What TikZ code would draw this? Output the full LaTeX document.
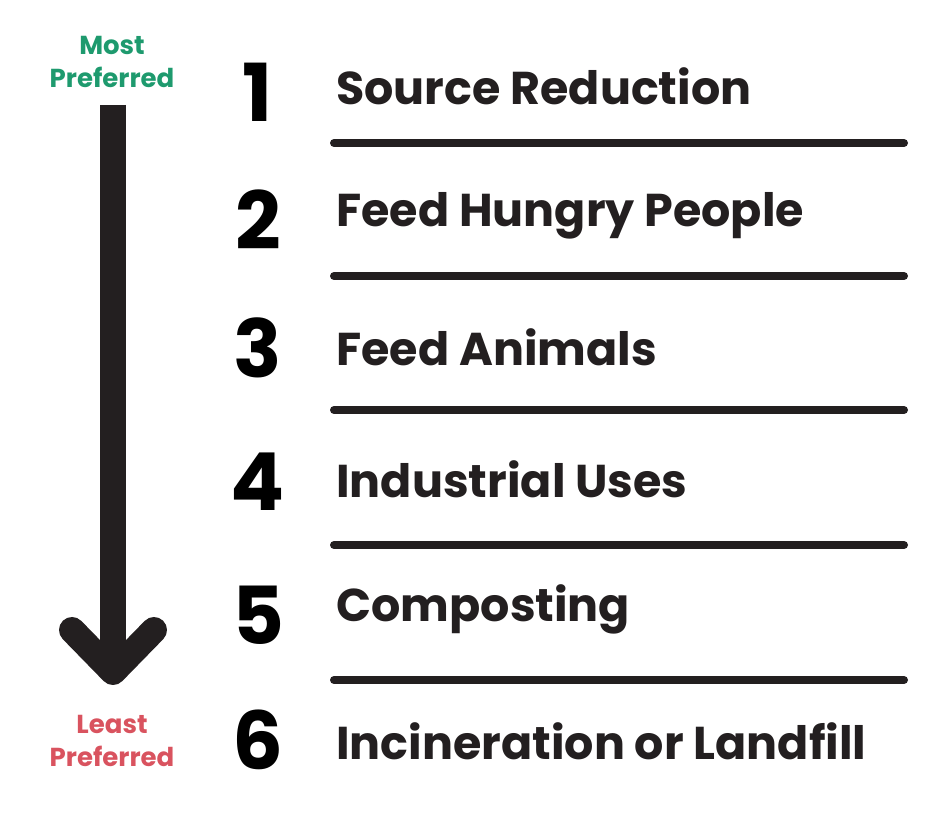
\documentclass[tikz,border=0pt]{standalone}
\usepackage{fontspec}
\setmainfont{Poppins}
\usepackage{tikz}
\usetikzlibrary{positioning}
\definecolor{inkdark}{HTML}{231F20}
\definecolor{mostgreen}{HTML}{1E9A6E}
\definecolor{leastred}{HTML}{D9535F}

\begin{document}
\begin{tikzpicture}[x=0.5pt,y=-0.5pt,
  num/.style={font=\fontsize{40}{40}\selectfont\bfseries,text=black,anchor=center},
  lbl/.style={font=\fontsize{23}{25}\selectfont\bfseries,text=inkdark,anchor=west,inner sep=0pt},
  rule/.style={draw=inkdark,line width=4pt,line cap=round},
  pref/.style={font=\fontsize{13}{16.5}\selectfont\bfseries,align=center,inner sep=0pt},
  bigarrow/.style={draw=inkdark,line width=13pt,line cap=round,line join=round}]
\useasboundingbox (0,0) rectangle (934,828);
% preference labels
\node[pref,text=mostgreen] (most) at (112,62) {Most\\Preferred};
\node[pref,text=leastred] (least) at (112,741) {Least\\Preferred};
% arrow
\coordinate (top) at (113,105);
\coordinate (tip) at (113,672);
\draw[bigarrow,line cap=butt] (top) -- (113,665);
\draw[bigarrow] (72,630) -- (tip) -- (154,630);
% levels
\node[num] (n1) at (258,92) {1};
\node[lbl] (l1) at (336,86) {Source Reduction};
\node[num] (n2) at (258,220) {2};
\node[lbl] (l2) at (336,216) {Feed Hungry People};
\node[num] (n3) at (258,348) {3};
\node[lbl] (l3) at (336,347) {Feed Animals};
\node[num] (n4) at (258,482) {4};
\node[lbl] (l4) at (336,479) {Industrial Uses};
\node[num] (n5) at (258,615) {5};
\node[lbl] (l5) at (336,609) {Composting};
\node[num] (n6) at (258,740) {6};
\node[lbl] (l6) at (336,741) {Incineration or Landfill};
% separators
\foreach \y in {143,276,410,545,680}
  \draw[rule] (334,\y) -- (904,\y);
\end{tikzpicture}
\end{document}
